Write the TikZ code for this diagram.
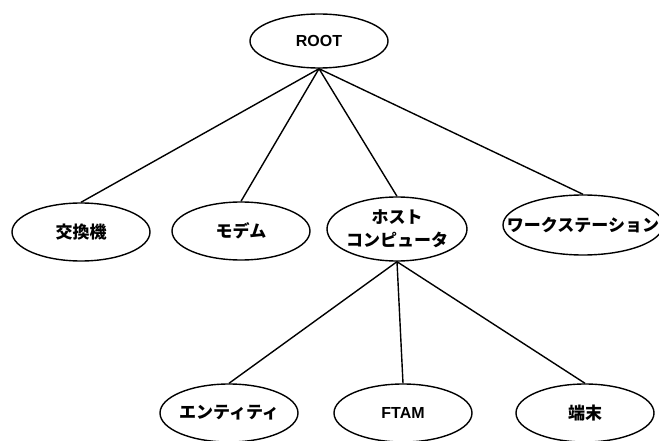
\documentclass[tikz,border=0pt]{standalone}
\usepackage{fontspec}
\setmainfont{Noto Sans CJK JP}
\newfontfamily\lat{Liberation Sans}
\usetikzlibrary{shapes.geometric}
\tikzset{
  ell/.style={draw, ellipse, line width=1.4pt, inner sep=0pt,
    minimum width=138pt, minimum height=58pt},
  jtxt/.style={align=center, inner sep=0pt, font=\fontsize{17}{23}\selectfont\bfseries},
  ltxt/.style={inner sep=0pt, font=\fontsize{16}{18}\selectfont\lat\bfseries},
  edge/.style={line width=1.4pt}
}
\begin{document}
\begin{tikzpicture}[x=1pt,y=-1pt]
\useasboundingbox (0,0) rectangle (659,441);
\begin{scope}
\clip (0,0) rectangle (659,441);
\node[ell, minimum width=138pt, minimum height=54pt, label={[ltxt]center:ROOT}] (root) at (319,41) {};
\node[ell, label={[jtxt]center:交換機}] (kk) at (81,232) {};
\node[ell, label={[jtxt]center:モデム}] (md) at (241,231) {};
\node[ell, minimum width=140pt, minimum height=64pt, label={[jtxt]center:ホスト\\コンピュータ}] (host) at (397,229) {};
\node[ell, minimum width=160pt, minimum height=60pt, label={[jtxt]center:ワークステーション}] (ws) at (583,225) {};
\node[ell, label={[jtxt]center:エンティティ}] (ent) at (229,413) {};
\node[ell, label={[ltxt]center:FTAM}] (ftam) at (403,413) {};
\node[ell, label={[jtxt]center:端末}] (tm) at (585,413) {};
\draw[edge] (root.south) -- (kk.north);
\draw[edge] (root.south) -- (md.north);
\draw[edge] (root.south) -- (host.north);
\draw[edge] (root.south) -- (ws.north);
\draw[edge] (host.south) -- (ent.north);
\draw[edge] (host.south) -- (ftam.north);
\draw[edge] (host.south) -- (tm.north);
\end{scope}
\end{tikzpicture}
\end{document}
